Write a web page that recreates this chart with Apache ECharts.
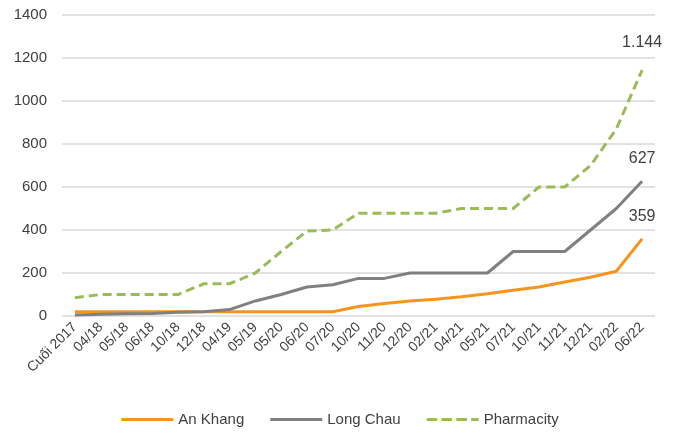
<!DOCTYPE html>
<html><head><meta charset="utf-8">
<script src="https://cdn.jsdelivr.net/npm/echarts@6/dist/echarts.min.js"></script>
<style>html,body{margin:0;padding:0;background:#fff}#c{width:680px;height:433px}</style>
</head><body><div id="c"></div>
<script>
const categories = ['Cuối 2017','04/18','05/18','06/18','10/18','12/18','04/19','05/19','05/20','06/20','07/20','10/20','11/20','12/20','02/21','04/21','05/21','07/21','10/21','11/21','12/21','02/22','06/22'];
const anKhang = [20,20,20,20,20,20,20,20,20,20,20,44,58,70,78,90,104,120,135,158,180,208,359];
const longChau = [5,8,10,12,18,20,30,70,100,135,145,175,175,200,200,200,200,300,300,300,400,500,627];
const pharmacity = [85,100,100,100,100,150,150,200,300,395,400,478,478,478,478,500,500,500,600,600,700,870,1144];
const endLabels = ['359','627','1.144'];

const FONT = 'Liberation Sans';
function mkSeries(name, data, color, type, lbl, dist){
  const last = data.length - 1;
  return {
    name, type:'line', data, symbol:'none', smooth:false,
    lineStyle:{color, width:3, type},
    itemStyle:{color},
    markPoint:{
      symbol:'circle', symbolSize:1, itemStyle:{color:'rgba(0,0,0,0)'},
      label:{show:true, position:'top', distance:dist, color:'#404040', fontSize:16, fontFamily:FONT, formatter:lbl},
      data:[{coord:[last, data[last]], value:data[last]}]
    }
  };
}
const chart = echarts.init(document.getElementById('c'));
chart.setOption({
  animation:false,
  grid:{left:62, right:25, top:15, bottom:117},
  legend:{bottom:1, left:'center', itemWidth:52, itemHeight:10, itemGap:26,
    textStyle:{fontSize:15, color:'#404040', fontFamily:FONT},
    data:[{name:'An Khang', icon:'path://M0,3.5H52V6.5H0Z'},
          {name:'Long Chau', icon:'path://M0,3.5H52V6.5H0Z'},
          {name:'Pharmacity', icon:'path://M0,3.5H10V6.5H0ZM14,3.5H24V6.5H14ZM28,3.5H38V6.5H28ZM42,3.5H49V6.5H42Z'}]},
  xAxis:{type:'category', data:categories, boundaryGap:true,
    axisLine:{show:false}, axisTick:{show:false},
    axisLabel:{rotate:45, interval:0, fontSize:14, color:'#404040', fontFamily:FONT, margin:9}},
  yAxis:{type:'value', min:0, max:1400, interval:200,
    axisLine:{show:false}, axisTick:{show:false},
    splitLine:{lineStyle:{color:'#d9d9d9', width:1.5}},
    axisLabel:{fontSize:15, color:'#404040', fontFamily:FONT, margin:15, formatter:v => String(v)}},
  series:[
    mkSeries('An Khang', anKhang, '#F7941D', 'solid', endLabels[0], 14),
    mkSeries('Long Chau', longChau, '#808080', 'solid', endLabels[1], 14),
    mkSeries('Pharmacity', pharmacity, '#9BBB59', [9,5], endLabels[2], 19)
  ]
});
</script></body></html>
